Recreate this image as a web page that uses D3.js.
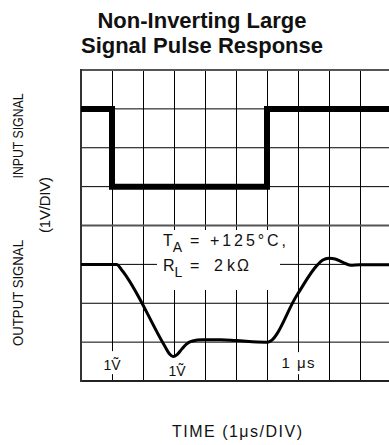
<!DOCTYPE html>
<html>
<head>
<meta charset="utf-8">
<script src="https://cdn.jsdelivr.net/npm/d3@7"></script>
<style>
  html, body { margin: 0; padding: 0; background: #fff; }
  svg { display: block; }
  text { font-family: "Liberation Sans", Arial, sans-serif; fill: #111; }
</style>
</head>
<body>
<script>
// Scope graticule: 10 time divisions (1 µs/div), 8 vertical divisions (1 V/div)
const timeDivs = d3.range(0, 11);
const voltDivs = d3.range(0, 9);

// Input pulse (divisions from bottom of screen)
const inputTime = [0, 1, 1, 6, 6, 10];
const inputVolt = [7, 7, 5, 5, 7, 7];

// Output response (non-inverting, large signal)
const outputTime = [0, 1.15, 1.3, 2.7, 2.85, 2.97, 3.1, 3.25, 3.4, 3.6, 3.9, 4.5, 5.0, 5.95,
                    6.02, 6.96, 7.62, 7.8, 8.0, 8.2, 8.45, 8.7, 9.0, 10];
const outputVolt = [3.0, 3.0, 2.87, 0.9, 0.7, 0.63, 0.68, 0.82, 0.95, 1.03, 1.06, 1.06, 1.04, 1.0,
                    1.0, 2.2, 2.98, 3.11, 3.16, 3.14, 3.05, 2.98, 2.99, 2.99];

// Scale-setting labels in the bottom row
const scaleLabels = [
  { t: 1.0, v: 0.28, text: "1\u1E7C" },
  { t: 3.1, v: 0.13, text: "1\u1E7C" }
];
const timeLabel = { t: 7.0, v: 0.33, text: "1 \u03BCs" };

const W = 389, H = 445;
const svg = d3.select("body").append("svg").attr("width", W).attr("height", H);

const x = d3.scaleLinear().domain([0, 10]).range([81, 391]);
const y = d3.scaleLinear().domain([0, 8]).range([381, 70]);

// Title
const title = svg.append("text").attr("text-anchor", "middle")
  .style("font-weight", "bold").style("font-size", "22px");
title.append("tspan").attr("x", 202).attr("y", 28).text("Non-Inverting Large");
title.append("tspan").attr("x", 202).attr("y", 53).text("Signal Pulse Response");

// Graticule
const grid = svg.append("g");
grid.selectAll("line.v").data(timeDivs.filter(d => d > 0)).join("line")
  .attr("x1", d => x(d) + 0.5).attr("x2", d => x(d) + 0.5)
  .attr("y1", y(8)).attr("y2", y(0))
  .attr("stroke", "#000").attr("stroke-width", 1);
grid.selectAll("line.h").data(voltDivs.filter(d => d % 4 !== 0)).join("line")
  .attr("x1", x(0)).attr("x2", x(10))
  .attr("y1", d => y(d)).attr("y2", d => y(d))
  .attr("stroke", "#000").attr("stroke-width", 1);
// Frame and centre line
grid.selectAll("line.m").data([0, 4, 8]).join("line")
  .attr("x1", x(0)).attr("x2", x(10))
  .attr("y1", d => y(d)).attr("y2", d => y(d))
  .attr("stroke", d => d === 0 ? "#222" : "#555").attr("stroke-width", 2);
grid.append("line")
  .attr("x1", x(0)).attr("x2", x(0)).attr("y1", y(8) - 1).attr("y2", y(0) + 1)
  .attr("stroke", "#333").attr("stroke-width", 2);

// Condition annotation, on a cleared patch of graticule
svg.append("rect").attr("x", 157).attr("y", 230).attr("width", 123).attr("height", 60)
  .attr("fill", "#fff");
const ann = svg.append("g").style("font-size", "16px");
const l1 = ann.append("text").attr("x", 163).attr("y", 246);
l1.append("tspan").text("T");
l1.append("tspan").attr("dy", 6).style("font-size", "14px").text("A");
l1.append("tspan").attr("dy", -6).attr("x", 190).text("=");
l1.append("tspan").attr("x", 210).attr("textLength", 76).text("+125\u00B0C,");
const l2 = ann.append("text").attr("x", 163).attr("y", 271);
l2.append("tspan").text("R");
l2.append("tspan").attr("dy", 6).style("font-size", "14px").text("L");
l2.append("tspan").attr("dy", -6).attr("x", 190).text("=");
l2.append("tspan").attr("x", 214).text("2");
l2.append("tspan").attr("x", 227).text("k");
l2.append("tspan").attr("x", 237).text("\u03A9");

// Scale labels with cleared backgrounds
const sl = svg.append("g").style("font-size", "14px");
scaleLabels.forEach(d => {
  const px = x(d.t), py = y(d.v);
  sl.append("rect").attr("x", px - 13).attr("y", py - 19).attr("width", 26).attr("height", 23)
    .attr("fill", "#fff");
});
{
  const px = x(timeLabel.t), py = y(timeLabel.v);
  sl.append("rect").attr("x", px - 20).attr("y", py - 16).attr("width", 40).attr("height", 22)
    .attr("fill", "#fff");
}

// Input trace
const line = d3.line().x(d => x(d[0])).y(d => y(d[1]));
svg.append("path")
  .attr("d", line(d3.zip(inputTime, inputVolt)))
  .attr("fill", "none").attr("stroke", "#000").attr("stroke-width", 6)
  .attr("stroke-linejoin", "miter").attr("stroke-linecap", "butt");

// Output trace
svg.append("path")
  .attr("d", line.curve(d3.curveMonotoneX)(d3.zip(outputTime, outputVolt)))
  .attr("fill", "none").attr("stroke", "#000").attr("stroke-width", 3)
  .attr("stroke-linejoin", "round");

scaleLabels.forEach(d => {
  sl.append("text").attr("x", x(d.t)).attr("y", y(d.v))
    .attr("text-anchor", "middle").text(d.text);
});
sl.append("text").attr("x", x(timeLabel.t)).attr("y", y(timeLabel.v))
  .attr("text-anchor", "middle").style("font-size", "15px").attr("textLength", 33)
  .text(timeLabel.text);

// Axis captions
const cap = svg.append("g").style("font-size", "15px");
cap.append("text").attr("transform", "translate(23,136) rotate(-90)")
  .attr("text-anchor", "middle").attr("textLength", 85).attr("lengthAdjust", "spacingAndGlyphs")
  .text("INPUT SIGNAL");
cap.append("text").attr("transform", "translate(23,293) rotate(-90)")
  .attr("text-anchor", "middle").attr("textLength", 106).attr("lengthAdjust", "spacingAndGlyphs")
  .text("OUTPUT SIGNAL");
cap.append("text").attr("transform", "translate(50,205) rotate(-90)")
  .attr("text-anchor", "middle").attr("textLength", 56)
  .text("(1V/DIV)");
cap.append("text").attr("x", 237).attr("y", 437)
  .attr("text-anchor", "middle").style("font-size", "16px").attr("textLength", 130)
  .text("TIME (1\u03BCs/DIV)");
</script>
</body>
</html>
